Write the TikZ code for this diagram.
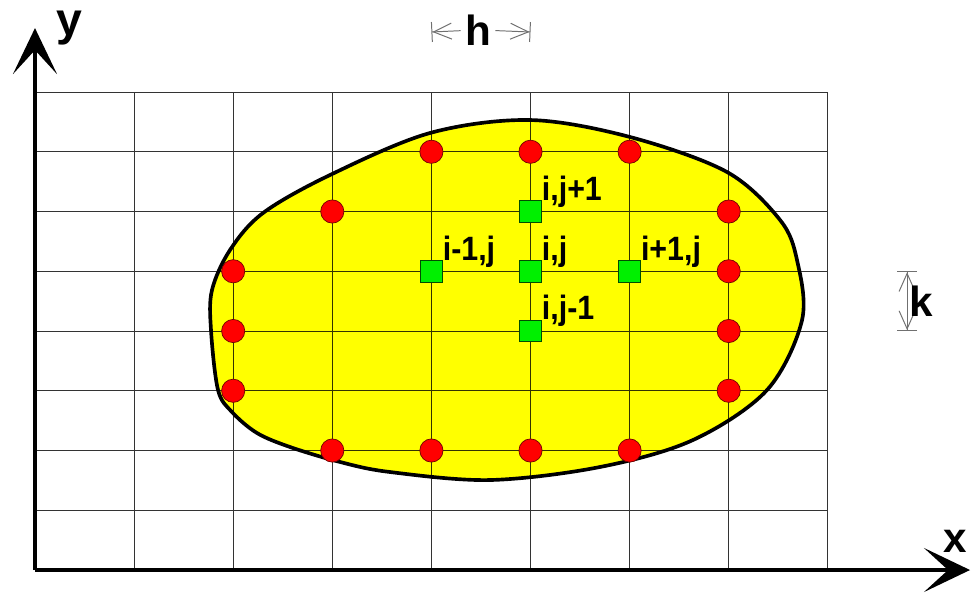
\documentclass[tikz,border=0pt]{standalone}
\usepackage{fontspec}
\setmainfont{Liberation Sans}
\newfontfamily\narrowsans[FakeStretch=0.9]{Liberation Sans}
\usetikzlibrary{arrows.meta, positioning}
\definecolor{cyellow}{HTML}{FFFF00}
\definecolor{cred}{HTML}{FF0000}
\definecolor{cgreen}{HTML}{00F000}
\definecolor{cgrey}{HTML}{707070}
\tikzset{
  every picture/.style={font=\bfseries},
  gridline/.style={draw=black, draw opacity=0.8, line width=0.6pt},
  axis/.style={line width=2.8pt, -{Stealth[length=11.5mm, width=11mm, inset=6mm]}},
  boundary/.style={draw=black, fill=cyellow, line width=2.6pt},
  bpoint/.style={circle, draw=red!45!black, fill=cred, line width=0.5pt, minimum size=5.8mm, inner sep=0pt},
  ipoint/.style={rectangle, draw=green!30!black, fill=cgreen, line width=0.5pt, minimum size=5.4mm, inner sep=0pt},
  ptlabel/.style={font=\narrowsans\fontsize{24}{28}\selectfont\bfseries, anchor=base west, inner sep=0pt},
  axlabel/.style={font=\fontsize{30}{36}\selectfont\bfseries},
  dim/.style={draw=cgrey, line width=0.7pt},
}

\begin{document}
\begin{tikzpicture}[x=2.478cm, y=1.494cm]
  \useasboundingbox (-0.353,-0.385) rectangle (9.465,9.54);
  % domain
  \def\domain{(1.786,4.686) (1.776,4.017) (1.847,3.013) (1.988,2.644) (2.240,2.293)
    (2.573,2.059) (3.078,1.808) (3.582,1.640) (4.591,1.506) (5.701,1.724) (6.640,2.176)
    (7.387,3.013) (7.740,4.184) (7.689,5.188) (7.518,5.858) (6.983,6.661)
    (6.004,7.247) (4.995,7.531) (3.986,7.314) (2.977,6.611) (2.301,5.975)
    (1.968,5.356)}
  \fill[cyellow] plot[smooth cycle, tension=0.55] coordinates {\domain};
  \draw[gridline] (0,0) grid[step={(1,1)}] (8,8);
  \draw[black, line width=2.6pt] plot[smooth cycle, tension=0.55] coordinates {\domain};
  % axes
  \coordinate (O) at (0,0);
  \coordinate (xend) at (9.435,0);
  \coordinate (yend) at (0,9.07);
  \draw[axis] (O) -- (xend);
  \draw[axis] (O) -- (yend);
  \node[axlabel, anchor=base west, inner sep=0pt, font=\fontsize{33}{40}\selectfont\bfseries] (ylabel) at (0.212,8.954) {y};
  \node[axlabel, anchor=base west, inner sep=0pt] (xlabel) at (9.16,0.285) {x};
  % boundary points
  \node[bpoint] (b1) at (4,7) {};
  \node[bpoint] (b2) at (5,7) {};
  \node[bpoint] (b3) at (6,7) {};
  \node[bpoint] (b4) at (3,6) {};
  \node[bpoint] (b5) at (7,6) {};
  \node[bpoint] (b6) at (2,5) {};
  \node[bpoint] (b7) at (7,5) {};
  \node[bpoint] (b8) at (2,4) {};
  \node[bpoint] (b9) at (7,4) {};
  \node[bpoint] (b10) at (2,3) {};
  \node[bpoint] (b11) at (7,3) {};
  \node[bpoint] (b12) at (3,2) {};
  \node[bpoint] (b13) at (4,2) {};
  \node[bpoint] (b14) at (5,2) {};
  \node[bpoint] (b15) at (6,2) {};
  % stencil
  \node[ipoint] (c) at (5,5) {};
  \node[ipoint] (w) at (4,5) {};
  \node[ipoint] (e) at (6,5) {};
  \node[ipoint] (n) at (5,6) {};
  \node[ipoint] (s) at (5,4) {};
  \node[ptlabel] (lc) at (c.north east) {i,j};
  \node[ptlabel] (lw) at (w.north east) {i-1,j};
  \node[ptlabel] (le) at (e.north east) {i+1,j};
  \node[ptlabel] (ln) at (n.north east) {i,j+1};
  \node[ptlabel] (ls) at (s.north east) {i,j-1};
  % step sizes
  \coordinate (hl) at (4,9.004);
  \coordinate (hr) at (5,9.004);
  \node[axlabel, inner xsep=3pt] (h) at (4.47,9.04) {h};
  \draw[dim, -{Straight Barb[length=4.5mm, width=4mm]Bar[width=5mm]}] (h) -- (hl);
  \draw[dim, -{Straight Barb[length=4.5mm, width=4mm]Bar[width=5mm]}] (h) -- (hr);
  \coordinate (kb) at (8.80,4);
  \coordinate (kt) at (8.80,5);
  \draw[dim, {Bar[width=5mm]Straight Barb[length=4.5mm, width=4mm]}-{Straight Barb[length=4.5mm, width=4mm]Bar[width=5mm]}]
    (kb) -- node[axlabel, right, inner sep=1pt] (k) {k} (kt);
\end{tikzpicture}
\end{document}
